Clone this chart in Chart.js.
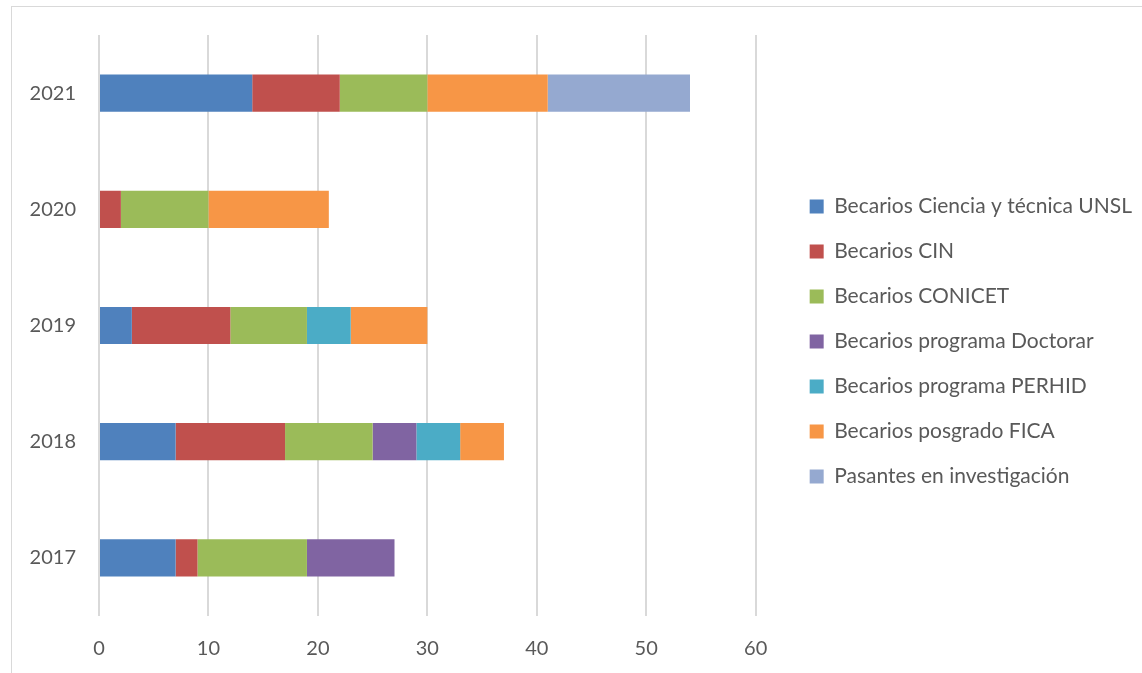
<!DOCTYPE html>
<html>
<head>
<meta charset="utf-8">
<script src="https://cdn.jsdelivr.net/npm/chart.js@4/dist/chart.umd.min.js"></script>
<style>
  body { margin: 0; background: #fff; }
  #frame { position: absolute; left: 11px; top: 6px; width: 1200px; height: 720px; border: 1px solid #d9d9d9; }
  #myChart { position: absolute; left: 0; top: 0; }
</style>
</head>
<body>
<div id="frame"></div>
<canvas id="myChart" width="1142" height="673"></canvas>
<script>
const years = ['2017', '2018', '2019', '2020', '2021'];

const seriesNames = [
  'Becarios Ciencia y técnica UNSL',
  'Becarios CIN',
  'Becarios CONICET',
  'Becarios programa Doctorar',
  'Becarios programa PERHID',
  'Becarios posgrado FICA',
  'Pasantes en investigación'
];

// values per year, 2017 -> 2021
const unsl = [7, 7, 3, 0, 14];
const cin = [2, 10, 9, 2, 8];
const conicet = [10, 8, 7, 8, 8];
const doctorar = [8, 4, 0, 0, 0];
const perhid = [0, 4, 4, 0, 0];
const fica = [0, 4, 7, 11, 11];
const pasantes = [0, 0, 0, 0, 13];

const xTicks = [0, 10, 20, 30, 40, 50, 60];

const colors = ['#4f81bd', '#c0504d', '#9bbb59', '#8064a2', '#4bacc6', '#f79646', '#95a9d0'];
const values = [unsl, cin, conicet, doctorar, perhid, fica, pasantes];

Chart.defaults.font.family = 'Lato';
Chart.defaults.font.size = 20;
Chart.defaults.color = '#595959';

const legendFont = 21;
const legendPad = 24;

// legend boxes should sit at x=810, work out the right padding from the longest label
const measure = document.createElement('canvas').getContext('2d');
measure.font = legendFont + 'px Lato';
const longest = Math.max(...seriesNames.map(t => measure.measureText(t).width));
const legendW = legendPad + 14 + legendFont / 2 + longest + 10;
const padRight = Math.max(0, 1142 - (810 - legendPad) - legendW);

const ctx = document.getElementById('myChart');

const myChart = new Chart(ctx, {
  type: 'bar',
  data: {
    labels: years,
    datasets: seriesNames.map((name, i) => ({
      label: name,
      data: values[i],
      backgroundColor: colors[i],
      borderWidth: 0,
      barPercentage: 0.32,
      categoryPercentage: 1
    }))
  },
  options: {
    indexAxis: 'y',
    responsive: false,
    animation: false,
    layout: {
      padding: { top: 10, bottom: 0, left: 0, right: padRight }
    },
    scales: {
      x: {
        stacked: true,
        min: xTicks[0],
        max: xTicks[xTicks.length - 1],
        ticks: { stepSize: 10, padding: 21 },
        grid: { color: '#d9d9d9', lineWidth: 2, drawTicks: false },
        border: { display: false },
        afterFit: (s) => { s.height = 57; }
      },
      y: {
        stacked: true,
        reverse: true,
        ticks: { padding: 23 },
        grid: { display: false, drawTicks: false },
        border: { display: false },
        afterFit: (s) => { s.width = 99; }
      },
      // empty spacers: one above the plot, one between plot and legend
      gapTop: {
        type: 'linear',
        position: 'top',
        ticks: { display: false },
        grid: { display: false },
        border: { display: false },
        afterFit: (s) => { s.height = 25; }
      },
      gap: {
        type: 'linear',
        position: 'right',
        ticks: { display: false },
        grid: { display: false },
        border: { display: false },
        afterFit: (s) => { s.width = 810 - legendPad - 756; }
      }
    },
    plugins: {
      legend: {
        position: 'right',
        align: 'center',
        maxWidth: 500,
        labels: {
          boxWidth: 14,
          boxHeight: 14,
          padding: legendPad,
          font: { size: legendFont }
        }
      },
      tooltip: { enabled: false }
    }
  }
});
</script>
</body>
</html>
